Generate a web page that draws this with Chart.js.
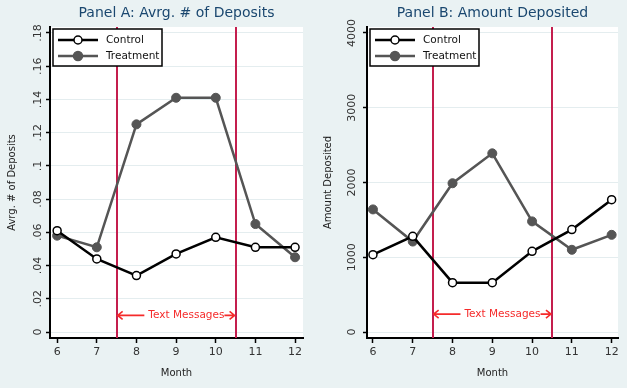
<!DOCTYPE html>
<html><head><meta charset="utf-8">
<script src="https://cdn.jsdelivr.net/npm/chart.js@4"></script>
<style>
html,body{margin:0;padding:0;background:#eaf2f3;}
body{width:627px;height:388px;position:relative;overflow:hidden;}
#panelA{position:absolute;left:0;top:0;}
#panelB{position:absolute;left:313px;top:0;}
</style></head><body>
<canvas id="panelA" width="313" height="388"></canvas>
<canvas id="panelB" width="314" height="388"></canvas>
<script>
// ---- data ----
const months = [6, 7, 8, 9, 10, 11, 12];
const depositsControl   = [0.061, 0.044, 0.034, 0.047, 0.057, 0.051, 0.051];
const depositsTreatment = [0.058, 0.051, 0.125, 0.141, 0.141, 0.065, 0.045];
const amountControl   = [1035, 1280, 660, 660, 1080, 1370, 1770];
const amountTreatment = [1640, 1210, 1990, 2390, 1480, 1100, 1300];
const depositTicks = [0, 0.02, 0.04, 0.06, 0.08, 0.10, 0.12, 0.14, 0.16, 0.18];
const depositTickLabels = ['0', '.02', '.04', '.06', '.08', '.1', '.12', '.14', '.16', '.18'];
const amountTicks = [0, 1000, 2000, 3000, 4000];
const amountTickLabels = ['0', '1000', '2000', '3000', '4000'];
const seriesNames = ['Control', 'Treatment'];
const panelTitles = ['Panel A: Avrg. # of Deposits', 'Panel B: Amount Deposited'];
const yTitles = ['Avrg. # of Deposits', 'Amount Deposited'];
const xTitle = 'Month';
const messageStart = 7.5, messageEnd = 10.5, messageTextFrom = 8.3;
const messageLabel = 'Text Messages';

const FONT = "'DejaVu Sans', sans-serif";
const FAM = 'DejaVu Sans';
const CTRL_COLOR = '#000000', TREAT_COLOR = '#555555';
const RED_LINE = '#c41e4e', RED_TEXT = '#f52b2b';

function panelPlugin(title, arrowY) {
  return {
    id: 'panelDecor',
    beforeDraw(chart) {
      const {ctx, chartArea: a} = chart;
      ctx.save();
      ctx.fillStyle = '#ffffff';
      ctx.fillRect(a.left, a.top, a.right - a.left, a.bottom - a.top);
      ctx.restore();
    },
    beforeDatasetsDraw(chart) {
      const {ctx, chartArea: a, scales: {x, y}} = chart;
      ctx.save();
      ctx.strokeStyle = RED_LINE;
      ctx.lineWidth = 2;
      [messageStart, messageEnd].forEach(v => {
        const px = Math.round(x.getPixelForValue(v));
        ctx.beginPath(); ctx.moveTo(px, a.top); ctx.lineTo(px, a.bottom); ctx.stroke();
      });
      // annotation
      const yy = y.getPixelForValue(arrowY);
      const x0 = x.getPixelForValue(messageStart) + 1;
      const x1 = x.getPixelForValue(messageEnd) - 1;
      const tx = x.getPixelForValue(messageTextFrom);
      ctx.font = '10.5px ' + FONT;
      ctx.fillStyle = RED_TEXT;
      ctx.textBaseline = 'middle';
      ctx.textAlign = 'left';
      ctx.fillText(messageLabel, tx, yy);
      const tw = ctx.measureText(messageLabel).width;
      ctx.strokeStyle = RED_TEXT;
      ctx.lineWidth = 1.6;
      ctx.beginPath();
      ctx.moveTo(x0, yy); ctx.lineTo(tx - 4, yy);
      ctx.moveTo(x0 + 5, yy - 4); ctx.lineTo(x0, yy); ctx.lineTo(x0 + 5, yy + 4);
      ctx.moveTo(tx + tw, yy); ctx.lineTo(x1, yy);
      ctx.moveTo(x1 - 5, yy - 4); ctx.lineTo(x1, yy); ctx.lineTo(x1 - 5, yy + 4);
      ctx.stroke();
      ctx.restore();
    },
    afterDraw(chart) {
      const {ctx, chartArea: a} = chart;
      ctx.save();
      // title
      ctx.font = '14px ' + FONT;
      ctx.fillStyle = '#1a476f';
      ctx.textAlign = 'center';
      ctx.textBaseline = 'middle';
      ctx.fillText(title, (a.left + a.right) / 2, 13);
      // legend
      const bx = a.left + 3, by = a.top + 2, bw = 109, bh = 37;
      ctx.fillStyle = '#ffffff';
      ctx.fillRect(bx, by, bw, bh);
      ctx.strokeStyle = '#000';
      ctx.lineWidth = 1.5;
      ctx.strokeRect(bx, by, bw, bh);
      const rows = [
        {name: seriesNames[0], color: CTRL_COLOR, fill: '#ffffff', r: 4},
        {name: seriesNames[1], color: TREAT_COLOR, fill: TREAT_COLOR, r: 4.5}
      ];
      rows.forEach((r, i) => {
        const ly = by + 11 + i * 16;
        ctx.strokeStyle = r.color; ctx.lineWidth = 2.5;
        ctx.beginPath(); ctx.moveTo(bx + 5, ly); ctx.lineTo(bx + 45, ly); ctx.stroke();
        ctx.beginPath(); ctx.arc(bx + 25, ly, r.r, 0, Math.PI * 2);
        ctx.fillStyle = r.fill; ctx.fill();
        ctx.lineWidth = 1.5; ctx.strokeStyle = r.color; ctx.stroke();
        ctx.fillStyle = '#111';
        ctx.font = '10.5px ' + FONT;
        ctx.textAlign = 'left'; ctx.textBaseline = 'middle';
        ctx.fillText(r.name, bx + 53, ly);
      });
      ctx.restore();
    }
  };
}

function makePanel(id, cfg) {
  const toPts = vals => months.map((m, i) => ({x: m, y: vals[i]}));
  return new Chart(document.getElementById(id), {
    type: 'line',
    data: {
      datasets: [
        {label: seriesNames[0], data: toPts(cfg.control), borderColor: CTRL_COLOR, borderWidth: 2.5,
         pointRadius: 4, pointBorderWidth: 1.5, pointBackgroundColor: '#ffffff', pointBorderColor: CTRL_COLOR, tension: 0},
        {label: seriesNames[1], data: toPts(cfg.treatment), borderColor: TREAT_COLOR, borderWidth: 2.5,
         pointRadius: 4.5, pointBorderWidth: 1, pointBackgroundColor: TREAT_COLOR, pointBorderColor: TREAT_COLOR, tension: 0}
      ]
    },
    options: {
      responsive: false, animation: false, devicePixelRatio: 1,
      layout: {padding: {left: 0, right: cfg.padRight, top: 27, bottom: 0}},
      plugins: {legend: {display: false}, tooltip: {enabled: false}, title: {display: false}},
      scales: {
        x: {
          type: 'linear', min: cfg.xmin, max: cfg.xmax,
          afterBuildTicks: s => { s.ticks = months.map(v => ({value: v})); },
          afterFit: s => { s.height = 50; },
          ticks: {padding: 3, maxRotation: 0, font: {size: 11, family: FAM}, color: '#333', callback: v => String(v)},
          grid: {drawOnChartArea: false, drawTicks: true, tickLength: 5, tickColor: '#000', tickWidth: 1.5},
          border: {color: '#000', width: 2},
          title: {display: true, text: xTitle, font: {size: 10, family: FAM}, color: '#222', padding: {top: 0, bottom: 9}}
        },
        y: {
          type: 'linear', min: cfg.ymin, max: cfg.ymax,
          afterBuildTicks: s => { s.ticks = cfg.ticks.map(v => ({value: v})); },
          afterFit: s => { s.width = cfg.yWidth; },
          ticks: {minRotation: 90, maxRotation: 90, crossAlign: 'center', padding: cfg.tickPad,
                  font: {size: 11, family: FAM}, color: '#333', callback: (v, i) => cfg.labels[i]},
          grid: {color: '#e4edef', lineWidth: 1, tickLength: 4, tickColor: '#000', tickWidth: 1.5},
          border: {color: '#000', width: 2},
          title: {display: true, text: cfg.yTitle, font: {size: 10, family: FAM}, color: '#222', padding: {top: cfg.titlePad, bottom: 0}}
        }
      }
    },
    plugins: [panelPlugin(cfg.title, cfg.arrowY)]
  });
}

makePanel('panelA', {
  control: depositsControl, treatment: depositsTreatment,
  ticks: depositTicks, labels: depositTickLabels,
  ymin: -0.0036, ymax: 0.1836, xmin: 5.82, xmax: 12.2,
  yWidth: 50, padRight: 10, tickPad: -1, titlePad: 6,
  yTitle: yTitles[0], title: panelTitles[0], arrowY: 0.01
});
makePanel('panelB', {
  control: amountControl, treatment: amountTreatment,
  ticks: amountTicks, labels: amountTickLabels,
  ymin: -80, ymax: 4080, xmin: 5.85, xmax: 12.16,
  yWidth: 54, padRight: 9, tickPad: -3, titlePad: 9,
  yTitle: yTitles[1], title: panelTitles[1], arrowY: 240
});
</script>
</body></html>
